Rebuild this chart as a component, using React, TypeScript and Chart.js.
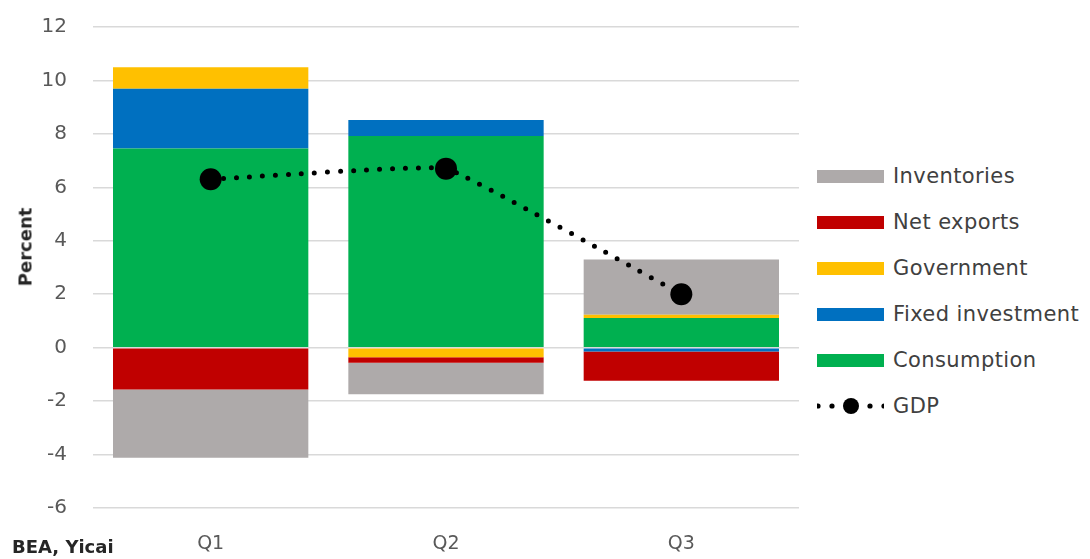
import Chart from "chart.js/auto";
import { useEffect, useRef } from "react";

const quarters = ["Q1", "Q2", "Q3"];
const consumption = [7.45, 7.92, 1.11];
const fixedInvestment = [2.24, 0.6, -0.14];
const government = [0.8, -0.36, 0.12];
const netExports = [-1.57, -0.2, -1.1];
const inventories = [-2.55, -1.18, 2.07];
const gdp = [6.3, 6.7, 2.0];

const FONT = "'DejaVu Sans', sans-serif";
const TEXT = "#595959";

const legendItems = [
  { label: "Inventories", color: "#AEAAAA" },
  { label: "Net exports", color: "#C00000" },
  { label: "Government", color: "#FFC000" },
  { label: "Fixed investment", color: "#0070C0" },
  { label: "Consumption", color: "#00B050" },
];

function GrowthChart() {
  const chartRef = useRef<HTMLCanvasElement | null>(null);
  const chartInstance = useRef<Chart | null>(null);

  useEffect(() => {
    document.body.style.margin = "0";
    if (!chartRef.current) return;
    const ctx = chartRef.current.getContext("2d");
    if (!ctx) return;

    if (chartInstance.current) {
      chartInstance.current.destroy();
    }

    const bar = (label: string, data: number[], color: string) => ({
      type: "bar" as const,
      label,
      data,
      backgroundColor: color,
      borderWidth: 0,
      stack: "parts",
      order: 2,
    });

    chartInstance.current = new Chart(ctx, {
      type: "bar",
      data: {
        labels: quarters,
        datasets: [
          bar("Consumption", consumption, "#00B050"),
          bar("Fixed investment", fixedInvestment, "#0070C0"),
          bar("Government", government, "#FFC000"),
          bar("Net exports", netExports, "#C00000"),
          bar("Inventories", inventories, "#AEAAAA"),
          {
            type: "line" as const,
            label: "GDP",
            data: gdp,
            stack: "gdp",
            order: 1,
            borderColor: "#000000",
            borderWidth: 5,
            borderDash: [0, 13],
            borderCapStyle: "round",
            backgroundColor: "#000000",
            pointRadius: 11,
            pointBackgroundColor: "#000000",
            pointBorderWidth: 0,
            tension: 0.08,
          } as any,
        ],
      },
      options: {
        animation: false,
        responsive: false,
        maintainAspectRatio: false,
        layout: { padding: { top: 27, right: 10, left: 0, bottom: 0 } },
        plugins: {
          legend: { display: false },
          tooltip: { enabled: false },
        },
        datasets: {
          bar: { categoryPercentage: 1, barPercentage: 0.83 },
        },
        scales: {
          x: {
            stacked: true,
            grid: { display: false },
            border: { display: false },
            ticks: {
              color: TEXT,
              font: { family: FONT, size: 19 },
              padding: 17,
            },
            afterFit: (scale) => {
              scale.height = 51;
            },
          },
          y: {
            stacked: true,
            min: -6,
            max: 12,
            grid: {
              color: "#D9D9D9",
              lineWidth: 1.5,
              drawTicks: true,
              tickLength: 22,
              tickColor: "rgba(0,0,0,0)",
            },
            border: { display: false },
            ticks: {
              stepSize: 2,
              color: TEXT,
              font: { family: FONT, size: 20 },
              padding: 4,
            },
            afterFit: (scale) => {
              scale.width = 93;
            },
          },
        },
      },
    });

    return () => {
      if (chartInstance.current) {
        chartInstance.current.destroy();
        chartInstance.current = null;
      }
    };
  }, []);

  return <canvas ref={chartRef} width={810} height={559} style={{ position: "absolute", left: 0, top: 0 }} />;
}

function Legend() {
  return (
    <div
      style={{
        position: "absolute",
        left: 817,
        top: 153,
        fontFamily: FONT,
        fontSize: 21,
        letterSpacing: 0.4,
        color: "#404040",
      }}
    >
      {legendItems.map((item) => (
        <div key={item.label} style={{ display: "flex", alignItems: "center", height: 46 }}>
          <div style={{ width: 67, height: 13, background: item.color, marginRight: 9 }} />
          <span>{item.label}</span>
        </div>
      ))}
      <div style={{ display: "flex", alignItems: "center", height: 46 }}>
        <svg width={67} height={20} style={{ marginRight: 9 }}>
          {[0, 14, 52, 66].map((x) => (
            <circle key={x} cx={x + 1} cy={10} r={2.6} fill="#000" />
          ))}
          <circle cx={34} cy={10} r={8} fill="#000" />
        </svg>
        <span>GDP</span>
      </div>
    </div>
  );
}

export default function App() {
  return (
    <div style={{ position: "relative", width: 1090, height: 559, background: "#fff", overflow: "hidden" }}>
      <GrowthChart />
      <div
        style={{
          position: "absolute",
          left: 25,
          top: 247,
          transform: "translate(-50%, -50%) rotate(-90deg)",
          fontFamily: FONT,
          fontWeight: 700,
          fontSize: 18,
          color: "#262626",
          whiteSpace: "nowrap",
        }}
      >
        Percent
      </div>
      <div
        style={{
          position: "absolute",
          left: 12,
          top: 536,
          fontFamily: FONT,
          fontWeight: 700,
          fontSize: 18,
          color: "#262626",
          whiteSpace: "nowrap",
          lineHeight: "22px",
        }}
      >
        BEA, Yicai
      </div>
      <Legend />
    </div>
  );
}
